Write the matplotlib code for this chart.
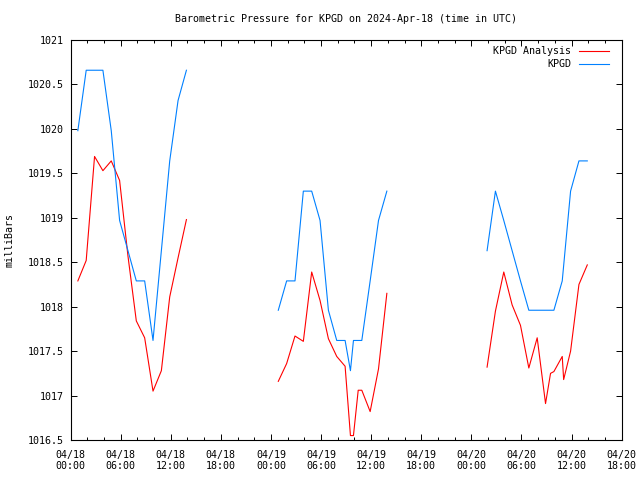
import numpy as np
import matplotlib
matplotlib.use("Agg")
import matplotlib.pyplot as plt
from matplotlib.ticker import MultipleLocator

# Heures depuis le 2024-04-18 00:00 UTC (observations à hh:53)
heures_obs = [0.88, 1.88, 2.88, 3.88, 4.88, 5.88, 6.88, 7.88, 8.88, 9.88, 10.88, 11.88, 12.88, 13.88,
              np.nan,
              24.88, 25.88, 26.88, 27.88, 28.88, 29.88, 30.88, 31.88, 32.88, 33.52, 33.88, 34.88,
              35.88, 36.88, 37.88,
              np.nan,
              49.88, 50.88, 51.88, 52.88, 53.88, 54.88, 55.88, 56.88, 57.88, 58.88, 59.88, 60.88, 61.88]
pression_obs = [1019.98, 1020.66, 1020.66, 1020.66, 1019.98, 1018.97, 1018.63, 1018.29, 1018.29,
                1017.62, 1018.63, 1019.64, 1020.32, 1020.66,
                np.nan,
                1017.96, 1018.29, 1018.29, 1019.30, 1019.30, 1018.97, 1017.96, 1017.62, 1017.62,
                1017.28, 1017.62, 1017.62, 1018.29, 1018.97, 1019.30,
                np.nan,
                1018.63, 1019.30, 1018.97, 1018.63, 1018.29, 1017.96, 1017.96, 1017.96, 1017.96,
                1018.29, 1019.30, 1019.64, 1019.64]

heures_ana = [0.88, 1.88, 2.88, 3.88, 4.88, 5.88, 6.88, 7.88, 8.88, 9.88, 10.88, 11.88, 12.88, 13.88,
              np.nan,
              24.88, 25.88, 26.88, 27.88, 28.88, 29.88, 30.88, 31.88, 32.88, 33.52, 33.88, 34.45,
              34.88, 35.88, 36.88, 37.88,
              np.nan,
              49.88, 50.88, 51.88, 52.88, 53.88, 54.88, 55.88, 56.88, 57.48, 57.88, 58.88, 59.05,
              59.88, 60.88, 61.88]
pression_ana = [1018.29, 1018.52, 1019.69, 1019.53, 1019.64, 1019.42, 1018.57, 1017.84, 1017.65,
                1017.05, 1017.28, 1018.11, 1018.55, 1018.98,
                np.nan,
                1017.16, 1017.36, 1017.67, 1017.61, 1018.39, 1018.07, 1017.64, 1017.44, 1017.33,
                1016.55, 1016.55, 1017.06, 1017.06, 1016.82, 1017.30, 1018.15,
                np.nan,
                1017.32, 1017.95, 1018.39, 1018.02, 1017.79, 1017.31, 1017.65, 1016.91, 1017.25,
                1017.27, 1017.44, 1017.18, 1017.50, 1018.25, 1018.47]

etiquettes_x = ["04/18\n00:00", "04/18\n06:00", "04/18\n12:00", "04/18\n18:00",
                "04/19\n00:00", "04/19\n06:00", "04/19\n12:00", "04/19\n18:00",
                "04/20\n00:00", "04/20\n06:00", "04/20\n12:00", "04/20\n18:00"]

police = "DejaVu Sans Mono"
taille = 7.2
plt.rcParams["font.family"] = police
plt.rcParams["font.size"] = taille

fig = plt.figure(figsize=(6.4, 4.8), dpi=100)
ax = fig.add_axes([70.5 / 640, 0.0833, 551.2 / 640, 400 / 480])

ax.plot(heures_ana, pression_ana, color="#ff0000", lw=0.8, label="KPGD Analysis")
ax.plot(heures_obs, pression_obs, color="#0080ff", lw=0.8, label="KPGD")

ax.set_xlim(0, 66)
ax.set_ylim(1016.5, 1021)
ax.set_xticks(np.arange(0, 67, 6))
ax.set_xticklabels(etiquettes_x)
ax.xaxis.set_minor_locator(MultipleLocator(2))
ax.yaxis.set_major_locator(MultipleLocator(0.5))
ax.yaxis.set_major_formatter(plt.FuncFormatter(lambda v, p: ("%g" % v)))

ax.tick_params(which="both", direction="in", top=True, right=True, width=0.7, colors="black")
ax.tick_params(which="major", length=4)
ax.tick_params(which="minor", length=2.2)
ax.tick_params(axis="x", pad=7)
ax.tick_params(axis="y", pad=5)
for s in ax.spines.values():
    s.set_linewidth(0.8)

fig.text(346 / 640, 1 - 19 / 480, "Barometric Pressure for KPGD on 2024-Apr-18 (time in UTC)",
         ha="center", va="center", fontsize=taille)
fig.text(10 / 640, 0.5, "milliBars", rotation=90, ha="center", va="center", fontsize=taille)

ax.legend(loc="upper right", bbox_to_anchor=(0.977, 0.985), frameon=False, markerfirst=False,
          borderaxespad=0, borderpad=0, handlelength=3.0, handletextpad=0.8, labelspacing=0.3,
          fontsize=taille)

plt.savefig("out.png", dpi=100)
